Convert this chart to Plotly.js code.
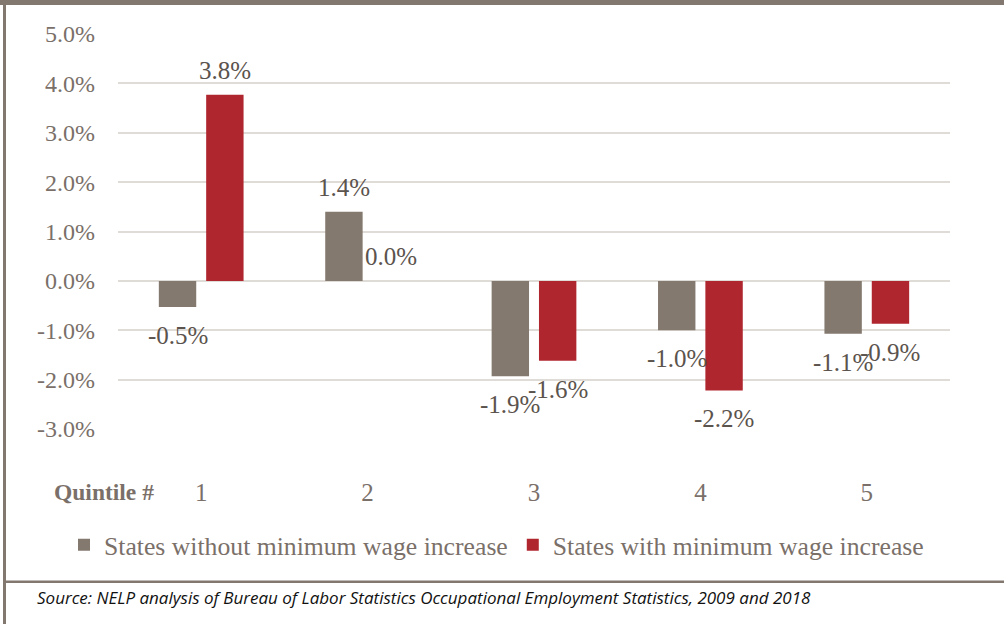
<!DOCTYPE html>
<html>
<head>
<meta charset="utf-8">
<script src="https://cdn.plot.ly/plotly-3.0.1.min.js"></script>
<style>html,body{margin:0;padding:0;background:#fff;}#chart{width:1004px;height:624px;}</style>
</head>
<body>
<div id="chart"></div>
<script>
const quintiles = ['1', '2', '3', '4', '5'];
const seriesNames = ['States without minimum wage increase', 'States with minimum wage increase'];
const withoutIncrease = [-0.53, 1.40, -1.93, -1.00, -1.07];
const withIncrease = [3.77, 0.00, -1.62, -2.22, -0.87];
const yTicks = [-3, -2, -1, 0, 1, 2, 3, 4, 5];
const yTickText = yTicks.map(v => v.toFixed(1) + '%');
const axisTitle = 'Quintile #';
const sourceNote = 'Source: NELP analysis of Bureau of Labor Statistics Occupational Employment Statistics, 2009 and 2018';

const W = 1004, H = 624;
const M = {l: 118, r: 54, t: 34, b: 195};
const PW = W - M.l - M.r, PH = H - M.t - M.b;
const px = x => (x - M.l) / PW;
const py = y => (H - M.b - y) / PH;

const serif = 'Liberation Serif, Times New Roman, serif';
const FS = 25;
const tickColor = '#7a7069';
const labelColor = '#5b534d';
const greyBar = '#84796f';
const redBar = '#b0262f';
const frame = '#82786f';

const traces = [
  {type: 'bar', x: quintiles, y: withoutIncrease, name: seriesNames[0], marker: {color: greyBar}, hoverinfo: 'skip'},
  {type: 'bar', x: quintiles, y: withIncrease, name: seriesNames[1], marker: {color: redBar}, hoverinfo: 'skip'}
];

const BARGAP = 0.431;
const annotations = [];
const slot = 0.5 * (1 - BARGAP) * PW / quintiles.length;
[withoutIncrease, withIncrease].forEach((vals, s) => {
  vals.forEach((v, i) => {
    annotations.push({
      x: i, y: v, xref: 'x', yref: 'y',
      text: v.toFixed(1) + '%', showarrow: false,
      xshift: (s === 0 ? -1 : 1) * slot / 2,
      yshift: v >= 0 ? 24 : -28.5,
      xanchor: 'center', yanchor: 'middle',
      font: {family: serif, size: FS, color: labelColor}
    });
  });
});
annotations.push({
  xref: 'paper', yref: 'paper', x: px(52), y: py(492), xanchor: 'left', yanchor: 'middle',
  text: '<b>' + axisTitle + '</b>', showarrow: false,
  font: {family: serif, size: 23.5, color: tickColor}
});
annotations.push({
  xref: 'paper', yref: 'paper', x: px(35), y: py(597), xanchor: 'left', yanchor: 'middle',
  text: sourceNote, showarrow: false,
  font: {family: 'Open Sans, Lato, sans-serif', size: 17, color: '#111111', style: 'italic'}
});

const shapes = [
  {type: 'rect', xref: 'paper', yref: 'paper', x0: px(0), x1: px(W), y0: py(5), y1: py(0), fillcolor: frame, line: {width: 0}, layer: 'above'},
  {type: 'rect', xref: 'paper', yref: 'paper', x0: px(3), x1: px(6), y0: py(H), y1: py(0), fillcolor: frame, line: {width: 0}, layer: 'above'},
  {type: 'rect', xref: 'paper', yref: 'paper', x0: px(3), x1: px(W), y0: py(583), y1: py(580.5), fillcolor: frame, line: {width: 0}, layer: 'above'}
];

const layout = {
  width: W, height: H,
  margin: M,
  paper_bgcolor: '#ffffff', plot_bgcolor: '#ffffff',
  font: {family: serif, size: FS, color: tickColor},
  barmode: 'group', bargap: BARGAP, bargroupgap: 0.21,
  showlegend: true,
  legend: {orientation: 'h', x: px(64), xanchor: 'left', y: py(545), yanchor: 'middle',
           font: {family: serif, size: 25.7, color: tickColor}, bgcolor: 'rgba(0,0,0,0)', traceorder: 'normal'},
  xaxis: {type: 'category', range: [-0.5, quintiles.length - 0.5], showgrid: false, zeroline: false, showline: false, ticks: '',
          ticklabelstandoff: 46, tickfont: {family: serif, size: FS, color: tickColor}, fixedrange: true},
  yaxis: {range: [-3, 5], tickmode: 'array', tickvals: yTicks, ticktext: yTickText,
          showgrid: true, gridcolor: '#dfdcd7', gridwidth: 2,
          zeroline: true, zerolinecolor: '#dfdcd7', zerolinewidth: 2,
          showline: false, ticks: '', ticklabelstandoff: 22,
          tickfont: {family: serif, size: 24, color: tickColor}, fixedrange: true},
  annotations: annotations,
  shapes: shapes
};

Plotly.newPlot('chart', traces, layout, {displayModeBar: false, staticPlot: true});
</script>
</body>
</html>
